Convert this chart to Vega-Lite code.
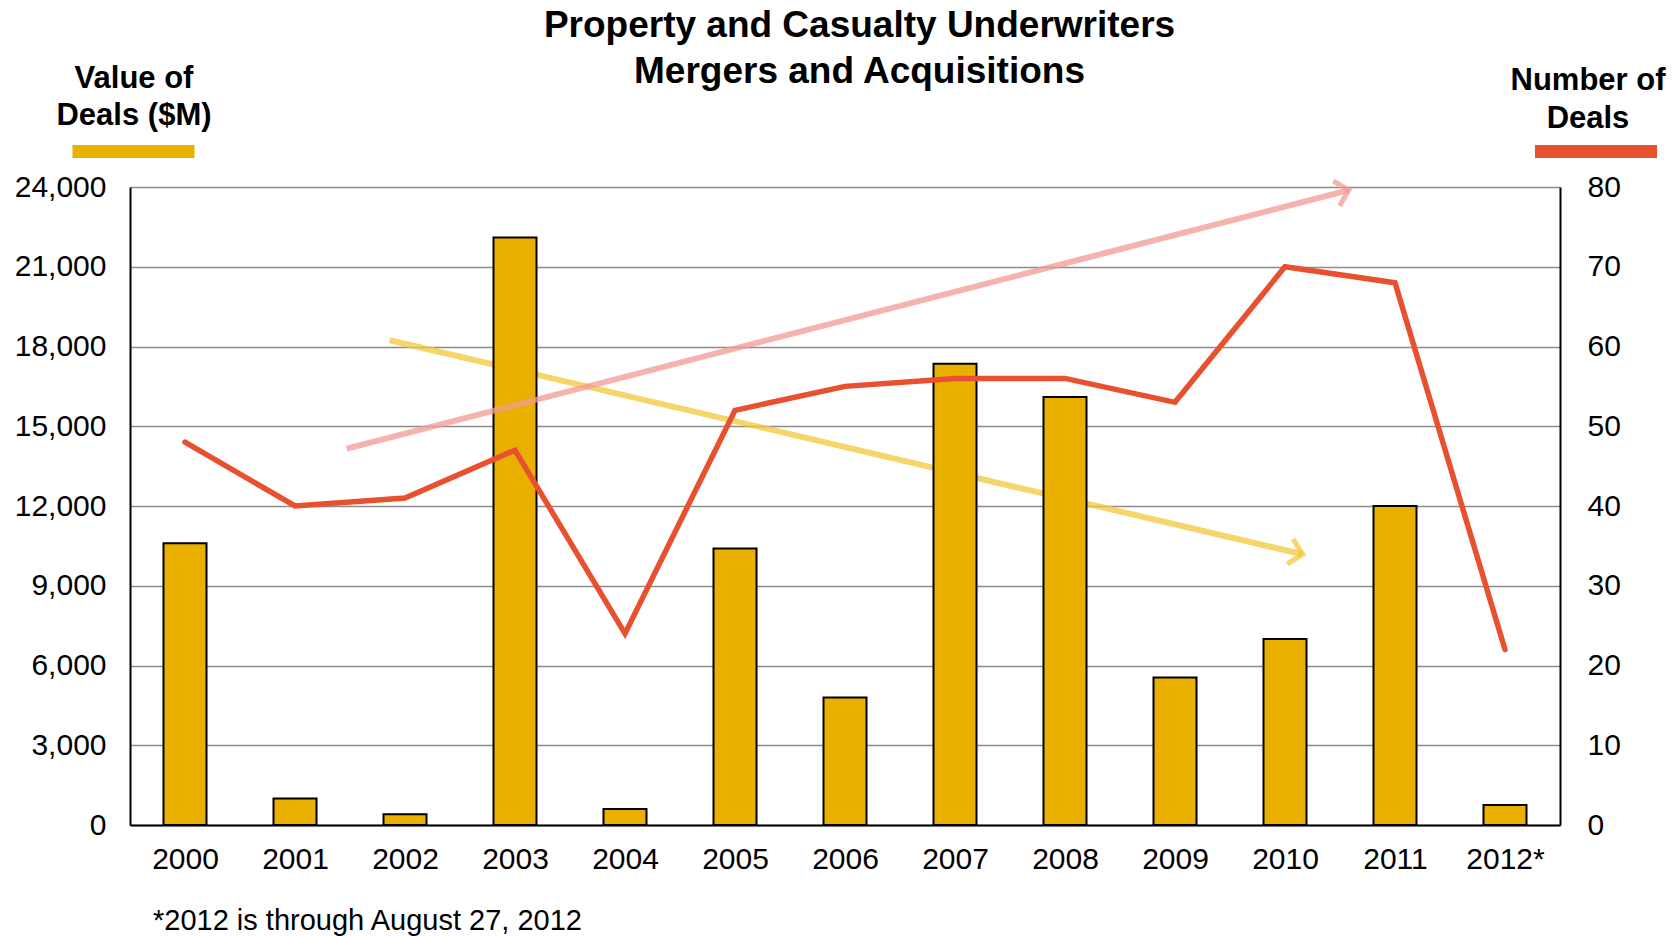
{
  "$schema": "https://vega.github.io/schema/vega-lite/v6.json",
  "width": 1430,
  "height": 638,
  "autosize": {"type": "none"},
  "padding": {"left": 130, "top": 187, "right": 117, "bottom": 111},
  "background": "white",
  "config": {
    "font": "Liberation Sans",
    "view": {"stroke": null}
  },
  "title": {
    "text": ["Property and Casualty Underwriters", "Mergers and Acquisitions"],
    "font": "Liberation Sans",
    "fontSize": 37,
    "fontWeight": "bold",
    "lineHeight": 46,
    "color": "black",
    "anchor": "middle",
    "frame": "group",
    "dx": 14.5,
    "offset": -29
  },
  "datasets": {
    "main": [
      {"i": 0, "year": "2000", "m": 10600, "n": 48},
      {"i": 1, "year": "2001", "m": 1000, "n": 40},
      {"i": 2, "year": "2002", "m": 400, "n": 41},
      {"i": 3, "year": "2003", "m": 22100, "n": 47},
      {"i": 4, "year": "2004", "m": 600, "n": 24},
      {"i": 5, "year": "2005", "m": 10400, "n": 52},
      {"i": 6, "year": "2006", "m": 4800, "n": 55},
      {"i": 7, "year": "2007", "m": 17350, "n": 56},
      {"i": 8, "year": "2008", "m": 16100, "n": 56},
      {"i": 9, "year": "2009", "m": 5550, "n": 53},
      {"i": 10, "year": "2010", "m": 7000, "n": 70},
      {"i": 11, "year": "2011", "m": 12000, "n": 68},
      {"i": 12, "year": "2012*", "m": 750, "n": 22}
    ],
    "valueTrend": [
      {"i": 1.86, "m": 18236},
      {"i": 10.16, "m": 10184}
    ],
    "valueTrendHead": [
      {"i": 10.16, "m": 10184}
    ],
    "countTrend": [
      {"i": 1.47, "n": 47.2},
      {"i": 10.58, "n": 79.6}
    ],
    "countTrendHead": [
      {"i": 10.58, "n": 79.6}
    ]
  },
  "layer": [
    {
      "layer": [
        {
          "data": {"name": "valueTrend"},
          "mark": {"type": "line", "color": "#f3c73a", "opacity": 0.75, "strokeWidth": 6},
          "encoding": {
            "x": {"field": "i", "type": "quantitative"},
            "y": {"field": "m", "type": "quantitative"}
          }
        },
        {
          "data": {"name": "valueTrendHead"},
          "mark": {"type": "point", "shape": "M-1,-1L0,0L-1,1", "filled": false, "stroke": "#f3c73a", "opacity": 0.75, "strokeWidth": 5, "size": 650, "angle": 13.2},
          "encoding": {
            "x": {"field": "i", "type": "quantitative"},
            "y": {"field": "m", "type": "quantitative"}
          }
        },
        {
          "data": {"name": "main"},
          "mark": {"type": "bar", "size": 43, "stroke": "black", "strokeWidth": 2},
          "encoding": {
            "x": {
              "field": "i",
              "type": "quantitative",
              "scale": {"domain": [-0.5, 12.5], "nice": false, "zero": false, "padding": 0},
              "axis": {
                "values": [0, 1, 2, 3, 4, 5, 6, 7, 8, 9, 10, 11, 12],
                "labelExpr": "['2000','2001','2002','2003','2004','2005','2006','2007','2008','2009','2010','2011','2012*'][datum.value]",
                "grid": false,
                "ticks": false,
                "domainColor": "black",
                "domainWidth": 2,
                "labelFontSize": 30,
                "labelPadding": 19,
                "labelColor": "black",
                "labelFlush": false,
                "labelOverlap": false,
                "title": "*2012 is through August 27, 2012",
                "titleX": 22.5,
                "titleY": 104.5,
                "titleAlign": "left",
                "titleAnchor": "start",
                "titleBaseline": "alphabetic",
                "titleFontSize": 29,
                "titleFontWeight": "normal",
                "titleColor": "black",
                "zindex": 1
              }
            },
            "y": {
              "field": "m",
              "type": "quantitative",
              "scale": {"domain": [0, 24000], "nice": false},
              "axis": {
                "orient": "left",
                "values": [0, 3000, 6000, 9000, 12000, 15000, 18000, 21000, 24000],
                "format": ",d",
                "grid": true,
                "gridColor": "#8c8c8c",
                "gridWidth": 1.5,
                "domainColor": "black",
                "domainWidth": 2,
                "ticks": false,
                "labelFontSize": 30,
                "labelPadding": 24,
                "labelColor": "black",
                "labelFlush": false,
                "labelOverlap": false,
                "title": ["Value of", "Deals ($M)"],
                "titleAngle": 0,
                "titleAlign": "center",
                "titleBaseline": "alphabetic",
                "titleX": 3.5,
                "titleY": -100,
                "titleFontSize": 31,
                "titleFontWeight": "bold",
                "titleLineHeight": 37,
                "titleColor": "black"
              }
            },
            "y2": {"datum": 0},
            "fill": {
              "datum": "Value of Deals ($M)",
              "scale": {"range": ["#EAB000"]},
              "legend": {
                "orient": "none",
                "legendX": -2.5,
                "legendY": -41.5,
                "title": null,
                "symbolType": "M-10.17,-1.08L10.17,-1.08L10.17,1.08L-10.17,1.08Z",
                "symbolSize": 144,
                "symbolStrokeWidth": 0,
                "symbolOpacity": 1,
                "labelExpr": "''",
                "labelFontSize": 1,
                "padding": 0
              }
            }
          }
        }
      ]
    },
    {
      "layer": [
        {
          "data": {"name": "countTrend"},
          "mark": {"type": "line", "color": "#f29a92", "opacity": 0.75, "strokeWidth": 6},
          "encoding": {
            "x": {"field": "i", "type": "quantitative"},
            "y": {"field": "n", "type": "quantitative"}
          }
        },
        {
          "data": {"name": "countTrendHead"},
          "mark": {"type": "point", "shape": "M-1,-1L0,0L-1,1", "filled": false, "stroke": "#f29a92", "opacity": 0.75, "strokeWidth": 5, "size": 650, "angle": -14.4},
          "encoding": {
            "x": {"field": "i", "type": "quantitative"},
            "y": {"field": "n", "type": "quantitative"}
          }
        },
        {
          "data": {"name": "main"},
          "mark": {"type": "line", "strokeWidth": 5.5, "strokeCap": "round", "strokeJoin": "miter"},
          "encoding": {
            "x": {"field": "i", "type": "quantitative"},
            "y": {
              "field": "n",
              "type": "quantitative",
              "scale": {"domain": [0, 80], "nice": false},
              "axis": {
                "orient": "right",
                "values": [0, 10, 20, 30, 40, 50, 60, 70, 80],
                "grid": false,
                "domainColor": "black",
                "domainWidth": 2,
                "ticks": false,
                "labelFontSize": 30,
                "labelPadding": 27,
                "labelColor": "black",
                "labelFlush": false,
                "labelOverlap": false,
                "title": ["Number of", "Deals"],
                "titleAngle": 0,
                "titleAlign": "center",
                "titleBaseline": "alphabetic",
                "titleX": 27.5,
                "titleY": -98,
                "titleFontSize": 31,
                "titleFontWeight": "bold",
                "titleLineHeight": 38,
                "titleColor": "black"
              }
            },
            "stroke": {
              "datum": "Number of Deals",
              "scale": {"range": ["#E8502F"]},
              "legend": {
                "orient": "none",
                "legendX": 1453.5,
                "legendY": -48,
                "title": null,
                "symbolType": "M-10.17,0L10.17,0",
                "symbolSize": 144,
                "symbolStrokeWidth": 13,
                "symbolOpacity": 1,
                "labelExpr": "''",
                "labelFontSize": 1,
                "padding": 0
              }
            }
          }
        }
      ]
    }
  ],
  "resolve": {"scale": {"y": "independent", "fill": "independent", "stroke": "independent"}}
}
